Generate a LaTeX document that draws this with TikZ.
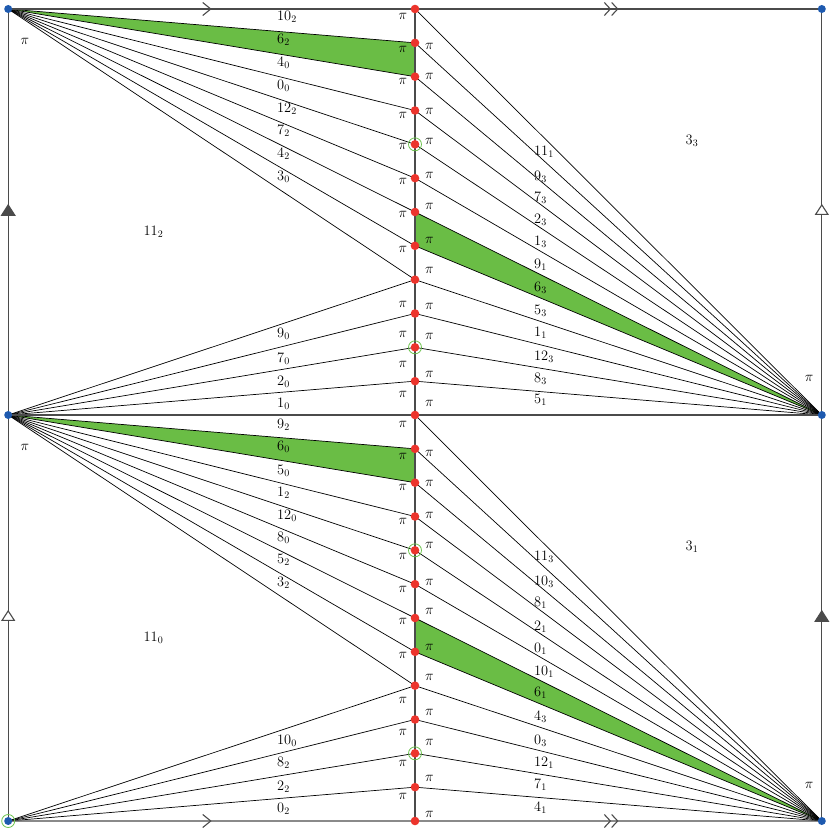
\documentclass[tikz,border=0pt]{standalone}
\usetikzlibrary{arrows.meta,decorations.markings,calc}
\definecolor{gfill}{RGB}{106,189,69}
\definecolor{gring}{RGB}{110,195,80}
\definecolor{rdot}{RGB}{236,52,44}
\definecolor{bdot}{RGB}{30,90,175}
\definecolor{edgec}{RGB}{75,75,75}
\begin{document}
\begin{tikzpicture}[x=1pt,y=-1pt,
  fan/.style={line width=0.7pt, draw=black},
  edge/.style={line width=1.1pt, draw=edgec},
  lbl/.style={font=\fontsize{14}{16}\selectfont, inner sep=0pt, anchor=west},
  reg/.style={font=\fontsize{14}{16}\selectfont, inner sep=0pt},
  pil/.style={font=\fontsize{14}{16}\selectfont, inner sep=0pt},
  singlemk/.style={postaction={decorate,decoration={markings,mark=at position 0.5 with {\arrow[line width=1.1pt,edgec]{Straight Barb[length=8pt,width=13pt]}}}}},
  doublemk/.style={postaction={decorate,decoration={markings,mark=at position 0.5 with {\arrow[line width=1.1pt,edgec]{Straight Barb[length=6pt,width=13pt]Straight Barb[length=6pt,width=13pt]}}}}},
  filledmk/.style={postaction={decorate,decoration={markings,mark=at position 0.52 with {\arrow[edgec]{Triangle[length=12pt,width=15pt]}}}}},
  openmk/.style={postaction={decorate,decoration={markings,mark=at position 0.52 with {\arrow[edgec,line width=1.1pt]{Triangle[open,length=11pt,width=14pt,fill=white]}}}}}
]
\useasboundingbox (0,0) rectangle (830,829);
% corners
\coordinate (TL) at (8.2,9);
\coordinate (ML) at (8.2,415);
\coordinate (BL) at (8.2,821);
\coordinate (TR) at (821.8,9);
\coordinate (MR) at (821.8,415);
\coordinate (BR) at (821.8,821);
\foreach \k in {0,...,24} \coordinate (d\k) at (415,{9+33.8333*\k});
% green regions
\fill[gfill] (TL) -- (d1) -- (d2) -- cycle;
\fill[gfill] (d6) -- (d7) -- (MR) -- cycle;
\fill[gfill] (ML) -- (d13) -- (d14) -- cycle;
\fill[gfill] (d18) -- (d19) -- (BR) -- cycle;
% fans
\foreach \k in {1,...,8} \draw[fan] (TL) -- (d\k);
\foreach \k in {8,...,11} \draw[fan] (ML) -- (d\k);
\foreach \k in {0,...,11} \draw[fan] (d\k) -- (MR);
\foreach \k in {13,...,20} \draw[fan] (ML) -- (d\k);
\foreach \k in {20,...,23} \draw[fan] (BL) -- (d\k);
\foreach \k in {12,...,23} \draw[fan] (d\k) -- (BR);
% edges
\draw[edge] (ML) -- (MR);
\draw[edge] (d0) -- (d24);
\draw[edge,singlemk] (TL) -- (d0);
\draw[edge,doublemk] (d0) -- (TR);
\draw[edge,singlemk] (BL) -- (d24);
\draw[edge,doublemk] (d24) -- (BR);
\draw[edge,filledmk] (ML) -- (TL);
\draw[edge,openmk] (BL) -- (ML);
\draw[edge,openmk] (MR) -- (TR);
\draw[edge,filledmk] (BR) -- (MR);
% dots
\foreach \k in {4,10,16,22} \draw[gring,line width=0.8pt] (d\k) circle[radius=6.5pt];
\draw[gring,line width=0.8pt] (BL) circle[radius=6.5pt];
\foreach \k in {0,...,24} \fill[rdot] (d\k) circle[radius=4.3pt];
\foreach \c in {TL,ML,BL,TR,MR,BR} \fill[bdot] (\c) circle[radius=4pt];
% left labels
\foreach \t/\y [count=\i] in {10_2/17,6_2/40,4_0/63,0_0/86,12_2/109,7_2/131,4_2/154,3_0/177,
  9_0/334,7_0/359,2_0/382,1_0/404,
  9_2/425,6_0/447,5_0/471,1_2/493,12_0/516,8_0/538,5_2/560,3_2/583,
  10_0/741,8_2/763,2_2/787,0_2/809}
  \node[lbl] (ll\i) at (277,\y) {$\t$};
% right labels
\foreach \t/\y [count=\i] in {11_1/152,9_3/177,7_3/198,2_3/220,1_3/242,9_1/265,6_3/288,5_3/311,1_1/333,12_3/357,8_3/379,5_1/400,
  11_3/557,10_3/582,8_1/603,2_1/627,0_1/649,10_1/672,6_1/693,4_3/717,0_3/741,12_1/763,7_1/785,4_1/808}
  \node[lbl] (rl\i) at (534,\y) {$\t$};
% region labels
\node[reg] (r112) at (153.5,232) {$11_2$};
\node[reg] (r33) at (692,141) {$3_3$};
\node[reg] (r110) at (153.5,638) {$11_0$};
\node[reg] (r31) at (692,547) {$3_1$};
% corner pi
\node[pil] (cp1) at (25,41) {$\pi$};
\node[pil] (cp2) at (25,447) {$\pi$};
\node[pil] (cp3) at (809,378) {$\pi$};
\node[pil] (cp4) at (809,785) {$\pi$};
% middle pi left
\foreach \y [count=\i] in {16.7,49.3,81,115,146.7,181,214.3,249.3,304.3,334.3,364.3,394,424,456.7,487.3,521,556,589.3,621,655,700.7,732.7,763.3,796.7}
  \node[pil] (pl\i) at (403,\y) {$\pi$};
% middle pi right
\foreach \y [count=\i] in {46.7,76.7,111,141.7,175,206.7,240,270.7,306.7,336.7,374.3,403.3,453.3,483.3,515,545.7,582.7,611.7,647.7,677.7,712.3,742.7,778.3,814.3}
  \node[pil] (pr\i) at (429.5,\y) {$\pi$};
\end{tikzpicture}
\end{document}
